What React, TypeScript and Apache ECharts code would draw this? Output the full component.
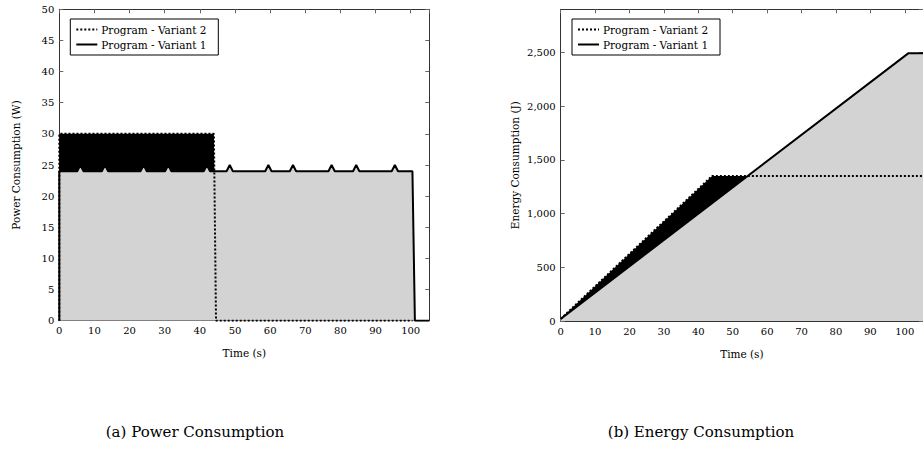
import React, { useEffect, useRef } from "react";
import * as echarts from "echarts";

// Power consumption (W) — Variant 1 (solid) time / value
const powerV1Time = [0, 0, 5.1, 6, 6.9, 12.1, 13, 13.9, 23.1, 24, 24.9, 30.1, 31, 31.9, 41.1, 42, 42.9, 47.6, 48.5, 49.4, 58.6, 59.5, 60.4, 65.6, 66.5, 67.4, 76.6, 77.5, 78.4, 83.6, 84.5, 85.4, 94.6, 95.5, 96.4, 100.5, 101.2, 105.3];
const powerV1Watts = [0, 24, 24, 25, 24, 24, 25, 24, 24, 25, 24, 24, 25, 24, 24, 25, 24, 24, 25, 24, 24, 25, 24, 24, 25, 24, 24, 25, 24, 24, 25, 24, 24, 25, 24, 24, 0, 0];
// Power consumption (W) — Variant 2 (dotted)
const powerV2Time = [0, 0, 44, 44.6, 100.5];
const powerV2Watts = [0, 30, 30, 0, 0];
// Energy consumption (J)
const energyV1Time = [0, 101, 105.3];
const energyV1Joules = [20, 2490, 2490];
const energyV2Time = [0, 44, 105.3];
const energyV2Joules = [20, 1350, 1350];

const legendNames = ["Program - Variant 2", "Program - Variant 1"];
const captions = ["(a) Power Consumption", "(b) Energy Consumption"];

const FONT = "'DejaVu Serif', 'Liberation Serif', serif";
const zip = (xs: number[], ys: number[]) => xs.map((x, i) => [x, ys[i]]);

export default function App() {
  const ref = useRef<HTMLDivElement>(null);
  useEffect(() => {
    document.body.style.margin = "0";
    if (!ref.current) return;
    const chart = echarts.init(ref.current, null, { renderer: "svg" });
    const frameColor = "#333";
    const tickColor = "#666";
    const baseX = (gridIndex: number, name: string) => ({
      type: "value",
      gridIndex,
      min: 0,
      max: 105.3,
      interval: 10,
      name,
      nameLocation: "middle",
      nameGap: 27,
      nameTextStyle: { fontFamily: FONT, fontSize: 10.5, color: "#000" },
      axisLine: { show: true, onZero: false, lineStyle: { color: frameColor, width: 1 } },
      axisTick: { show: true, inside: true, length: 4, lineStyle: { color: tickColor } },
      axisLabel: { fontFamily: FONT, fontSize: 10, color: "#000", margin: 5, showMaxLabel: false },
      splitLine: { show: false },
    });
    const topX = (gridIndex: number) => ({
      type: "value",
      gridIndex,
      position: "top",
      min: 0,
      max: 105.3,
      interval: 10,
      axisLine: { show: true, onZero: false, lineStyle: { color: frameColor, width: 1 } },
      axisTick: { show: true, inside: true, length: 4, lineStyle: { color: tickColor } },
      axisLabel: { show: false },
      splitLine: { show: false },
    });
    const leftY = (gridIndex: number, max: number, interval: number, name: string, gap: number, fmt?: (v: number) => string) => ({
      type: "value",
      gridIndex,
      min: 0,
      max,
      interval,
      name,
      nameLocation: "middle",
      nameGap: gap,
      nameTextStyle: { fontFamily: FONT, fontSize: 10.5, color: "#000" },
      axisLine: { show: true, onZero: false, lineStyle: { color: frameColor, width: 1 } },
      axisTick: { show: true, inside: true, length: 4, lineStyle: { color: tickColor } },
      axisLabel: { fontFamily: FONT, fontSize: 10, color: "#000", margin: 5, showMaxLabel: max % interval === 0, formatter: fmt },
      splitLine: { show: false },
    });
    const rightY = (gridIndex: number, max: number, interval: number) => ({
      type: "value",
      gridIndex,
      position: "right",
      min: 0,
      max,
      interval,
      axisLine: { show: true, onZero: false, lineStyle: { color: frameColor, width: 1 } },
      axisTick: { show: true, inside: true, length: 4, lineStyle: { color: tickColor } },
      axisLabel: { show: false },
      splitLine: { show: false },
    });

    const area = (xi: number, yi: number, data: number[][], color: string, z: number) => ({
      type: "line",
      xAxisIndex: xi,
      yAxisIndex: yi,
      data,
      symbol: "none",
      lineStyle: { width: 0, opacity: 0 },
      areaStyle: { color, opacity: 1 },
      z,
      silent: true,
    });
    const line = (xi: number, yi: number, data: number[][], dotted: boolean, z: number) => ({
      type: "line",
      xAxisIndex: xi,
      yAxisIndex: yi,
      data,
      symbol: "none",
      lineStyle: dotted ? { color: "#000", width: 2, type: [2, 2] } : { color: "#000", width: 2 },
      z,
      silent: true,
    });

    const legend = (x: number, y: number) => ({
      type: "group",
      x,
      y,
      children: [
        { type: "rect", shape: { x: 0, y: 0, width: 148, height: 36 }, style: { fill: "#fff", stroke: "#000", lineWidth: 1 } },
        { type: "line", shape: { x1: 6, y1: 10.5, x2: 27, y2: 10.5 }, style: { stroke: "#000", lineWidth: 2, lineDash: [2, 2] } },
        { type: "line", shape: { x1: 6, y1: 25.5, x2: 27, y2: 25.5 }, style: { stroke: "#000", lineWidth: 2 } },
        { type: "text", x: 31, y: 10.5, style: { text: legendNames[0], font: `10.5px ${FONT}`, fill: "#000", verticalAlign: "middle" } },
        { type: "text", x: 31, y: 25.5, style: { text: legendNames[1], font: `10.5px ${FONT}`, fill: "#000", verticalAlign: "middle" } },
      ],
      z: 100,
    });

    chart.setOption({
      animation: false,
      grid: [
        { left: 59.3, top: 9.3, width: 370, height: 311.4 },
        { left: 560.7, top: 9.3, width: 367.5, height: 311.7 },
      ],
      xAxis: [baseX(0, "Time (s)"), topX(0), baseX(1, "Time (s)"), topX(1)],
      yAxis: [
        leftY(0, 50, 5, "Power Consumption (W)", 38),
        rightY(0, 50, 5),
        leftY(1, 2900, 500, "Energy Consumption (J)", 40, (v: number) => v.toLocaleString("en-US")),
        rightY(1, 2900, 500),
      ],
      series: [
        area(0, 0, zip(powerV2Time, powerV2Watts), "#000", 1),
        area(0, 0, zip(powerV1Time, powerV1Watts), "#d3d3d3", 2),
        line(0, 0, zip(powerV2Time, powerV2Watts), true, 4),
        line(0, 0, zip(powerV1Time, powerV1Watts), false, 3),
        area(2, 2, zip(energyV2Time, energyV2Joules), "#000", 1),
        area(2, 2, zip(energyV1Time, energyV1Joules), "#d3d3d3", 2),
        line(2, 2, zip(energyV2Time, energyV2Joules), true, 4),
        line(2, 2, zip(energyV1Time, energyV1Joules), false, 3),
      ],
      graphic: [
        legend(70.3, 19),
        legend(572, 19),
        { type: "text", x: 195, y: 432, style: { text: captions[0], font: `15px ${FONT}`, fill: "#000", align: "center", verticalAlign: "middle" } },
        { type: "text", x: 701, y: 432, style: { text: captions[1], font: `15px ${FONT}`, fill: "#000", align: "center", verticalAlign: "middle" } },
      ],
    });
    return () => chart.dispose();
  }, []);
  return <div ref={ref} style={{ width: 923, height: 458 }} />;
}
